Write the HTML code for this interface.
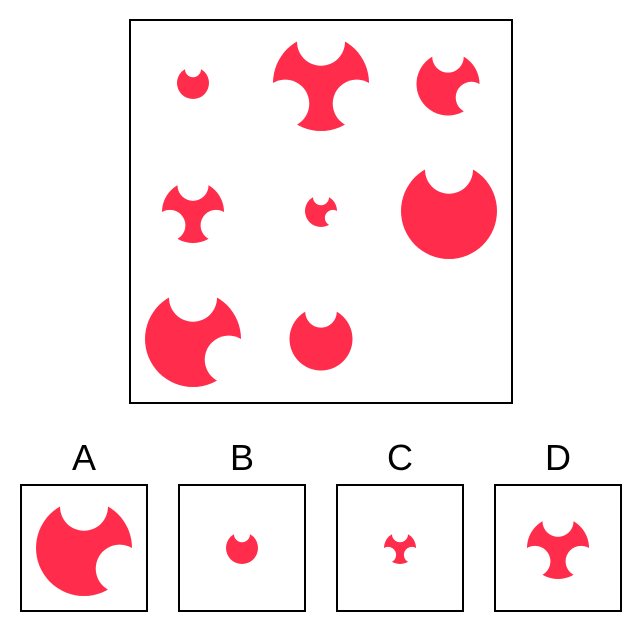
<!DOCTYPE html>
<html><head><meta charset="utf-8"><style>
body{margin:0;background:#fff;width:642px;height:632px;overflow:hidden}
svg{display:block}
text{font-family:"Liberation Sans",sans-serif;font-size:36px}
</style></head><body>
<svg id="s" width="642" height="632">
<defs id="defs"></defs>
<rect x="130" y="20" width="382" height="383" fill="#fff" stroke="#000" stroke-width="2"/>
<g><rect x="21" y="485" width="126" height="126" fill="#fff" stroke="#000" stroke-width="2"/><text x="84" y="470" text-anchor="middle">A</text></g>
<g><rect x="179" y="485" width="126" height="126" fill="#fff" stroke="#000" stroke-width="2"/><text x="242" y="470" text-anchor="middle">B</text></g>
<g><rect x="337" y="485" width="126" height="126" fill="#fff" stroke="#000" stroke-width="2"/><text x="400" y="470" text-anchor="middle">C</text></g>
<g><rect x="495" y="485" width="126" height="126" fill="#fff" stroke="#000" stroke-width="2"/><text x="558" y="470" text-anchor="middle">D</text></g>
</svg>
<script>
const cx=[193,321,448,193,321,449,193,321,84,242,400,558];
const cy=[83,83,84,212,211,211,339,339,548,548,548,548];
const rad=[16,48,31.5,31,16,48,48,31.5,48,16,16,31];
const notches=["t","tlr","tr","tlr","tr","t","tr","t","tr","t","tlr","tlr"];
const s=document.getElementById('s');
const defs=document.getElementById('defs');
const NS="http://www.w3.org/2000/svg";
const dirs={t:-90,r:30,l:150};
for(let i=0;i<cx.length;i++){
  const m=document.createElementNS(NS,'mask');
  m.setAttribute('id','m'+i);
  m.setAttribute('maskUnits','userSpaceOnUse');
  m.setAttribute('x',0);m.setAttribute('y',0);m.setAttribute('width',642);m.setAttribute('height',632);
  const bg=document.createElementNS(NS,'rect');
  bg.setAttribute('width',642);bg.setAttribute('height',632);bg.setAttribute('fill','#fff');
  m.appendChild(bg);
  for(const k of notches[i]){
    const a=dirs[k]*Math.PI/180,d=0.86*rad[i];
    const n=document.createElementNS(NS,'circle');
    n.setAttribute('cx',cx[i]+d*Math.cos(a));n.setAttribute('cy',cy[i]+d*Math.sin(a));
    n.setAttribute('r',0.5*rad[i]);n.setAttribute('fill','#000');
    m.appendChild(n);
  }
  defs.appendChild(m);
  const c=document.createElementNS(NS,'circle');
  
  
  c.setAttribute('cx',cx[i]);c.setAttribute('cy',cy[i]);c.setAttribute('r',rad[i]);
  c.setAttribute('fill','#ff2d4b');c.setAttribute('mask','url(#m'+i+')');
  s.appendChild(c);
}
</script>
</body></html>
